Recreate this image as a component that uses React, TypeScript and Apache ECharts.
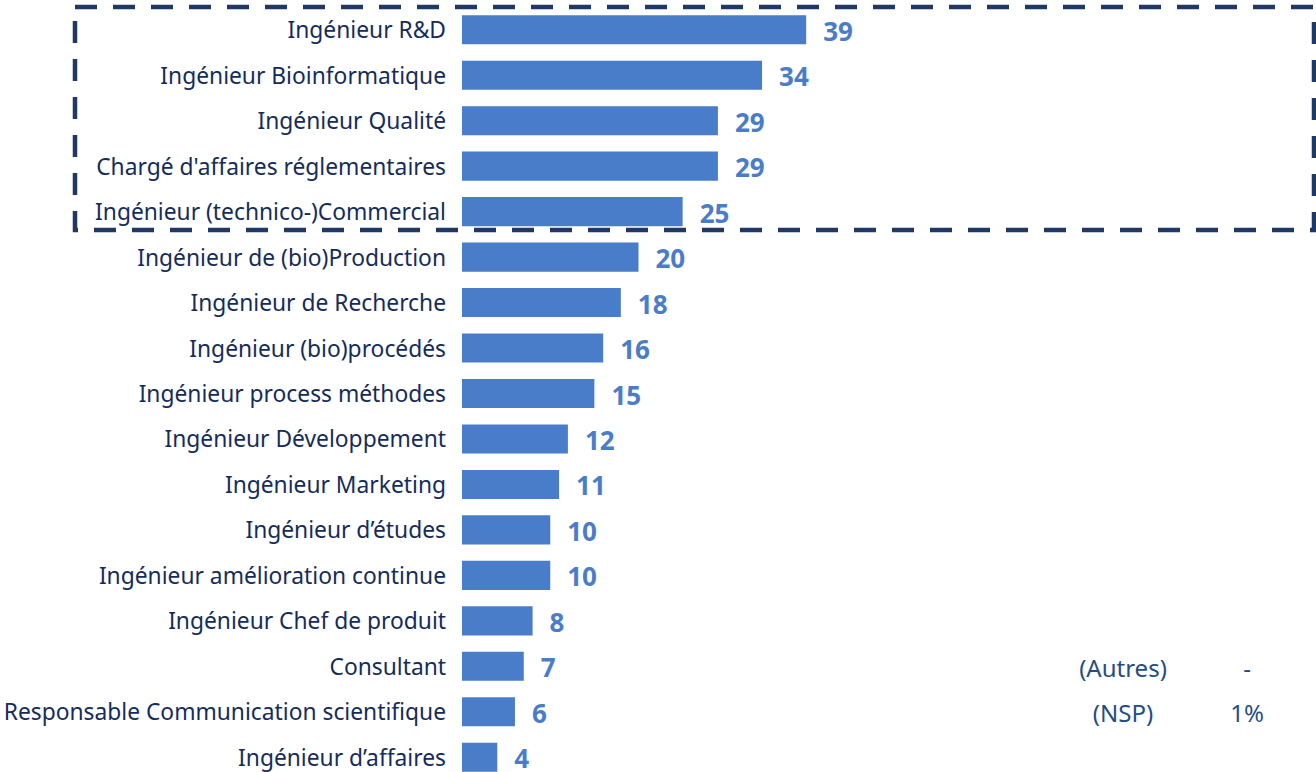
import React, { useEffect, useRef } from "react";
import * as echarts from "echarts";

const categories = [
  "Ingénieur R&D",
  "Ingénieur Bioinformatique",
  "Ingénieur Qualité",
  "Chargé d'affaires réglementaires",
  "Ingénieur (technico-)Commercial",
  "Ingénieur de (bio)Production",
  "Ingénieur de Recherche",
  "Ingénieur (bio)procédés",
  "Ingénieur process méthodes",
  "Ingénieur Développement",
  "Ingénieur Marketing",
  "Ingénieur d’études",
  "Ingénieur amélioration continue",
  "Ingénieur Chef de produit",
  "Consultant",
  "Responsable Communication scientifique",
  "Ingénieur d’affaires",
];
const values = [39, 34, 29, 29, 25, 20, 18, 16, 15, 12, 11, 10, 10, 8, 7, 6, 4];
const extraLabels = ["(Autres)", "(NSP)"];
const extraValues = ["-", "1%"];

export default function App() {
  const ref = useRef<HTMLDivElement>(null);
  useEffect(() => {
    document.body.style.margin = "0";
    document.body.style.overflow = "hidden";
    const chart = echarts.init(ref.current!, null, { renderer: "svg" });
    const font = "'Noto Sans', 'Open Sans', sans-serif";
    const textColor = "#142C5C";
    chart.setOption({
      animation: false,
      grid: { left: 462, right: 148, top: 7, height: 773, containLabel: false },
      xAxis: {
        type: "value",
        min: 0,
        max: 80,
        show: false,
        splitLine: { show: false },
      },
      yAxis: {
        type: "category",
        data: categories,
        inverse: true,
        axisLine: { show: false },
        axisTick: { show: false },
        axisLabel: {
          margin: 16,
          fontSize: 22.8,
          color: textColor,
          fontFamily: font,
        },
      },
      series: [
        {
          type: "bar",
          data: values,
          barCategoryGap: "36%",
          itemStyle: { color: "#4A7DC9" },
          label: {
            show: true,
            position: "right",
            distance: 17,
            offset: [0, 1],
            fontSize: 26,
            lineHeight: 24,
            fontWeight: "bold",
            color: "#4A7DC9",
            fontFamily: font,
          },
        },
      ],
      graphic: [
        {
          type: "rect",
          shape: { x: 75, y: 7, width: 1239, height: 223 },
          style: {
            fill: "none",
            stroke: "#1F3864",
            lineWidth: 4.5,
            lineDash: [22, 16],
          },
          silent: true,
        },
        ...extraLabels.map((t, i) => ({
          type: "text",
          x: 1123,
          y: 667 + i * 45,
          style: {
            text: t,
            fontSize: 24,
            fill: "#1F4E87",
            fontFamily: font,
            textAlign: "center",
            textVerticalAlign: "middle",
          },
        })),
        ...extraValues.map((t, i) => ({
          type: "text",
          x: 1247,
          y: 667 + i * 45,
          style: {
            text: t,
            fontSize: 24,
            fill: "#1F4E87",
            fontFamily: font,
            textAlign: "center",
            textVerticalAlign: "middle",
          },
        })),
      ],
    });
    return () => chart.dispose();
  }, []);
  return <div ref={ref} style={{ width: 1316, height: 800 }} />;
}
